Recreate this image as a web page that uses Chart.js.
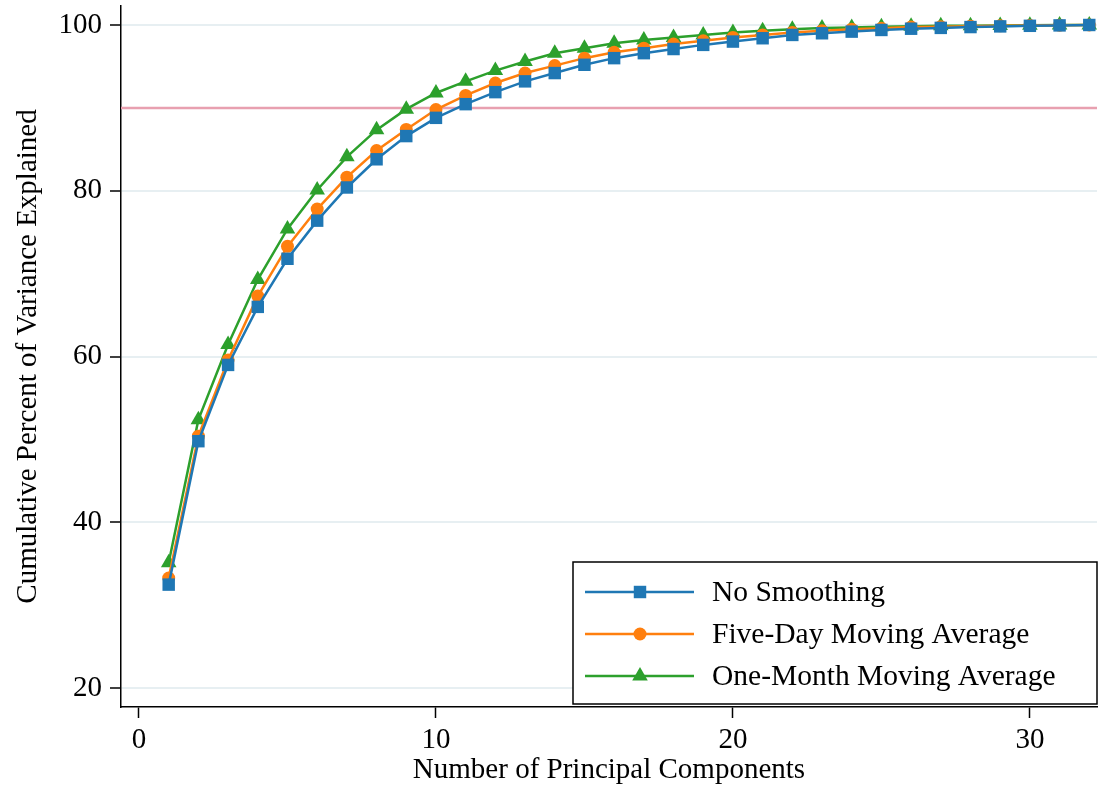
<!DOCTYPE html>
<html>
<head>
<meta charset="utf-8">
<script src="https://cdn.jsdelivr.net/npm/chart.js@4.4.1/dist/chart.umd.min.js"></script>
<style>
  html, body { margin: 0; padding: 0; background: #ffffff; }
  #wrap { width: 1099px; height: 789px; }
</style>
</head>
<body>
<div id="wrap"><canvas id="c" width="1099" height="789"></canvas></div>
<script>
// ---- data ----
const components = [1, 2, 3, 4, 5, 6, 7, 8, 9, 10, 11, 12, 13, 14, 15, 16,
                    17, 18, 19, 20, 21, 22, 23, 24, 25, 26, 27, 28, 29, 30, 31, 32];
const noSmoothing = [32.5, 49.8, 59.0, 66.0, 71.8, 76.4, 80.4, 83.8, 86.6, 88.8, 90.45, 91.9,
                     93.2, 94.2, 95.2, 96.0, 96.6, 97.1, 97.6, 98.0, 98.4, 98.8, 99.0, 99.2,
                     99.4, 99.55, 99.65, 99.75, 99.83, 99.9, 99.95, 100.0];
const fiveDayMA = [33.3, 50.4, 59.6, 67.3, 73.3, 77.8, 81.65, 84.85, 87.4, 89.8, 91.5, 93.0,
                   94.2, 95.1, 96.0, 96.7, 97.2, 97.7, 98.1, 98.5, 98.8, 99.1, 99.3, 99.5,
                   99.6, 99.75, 99.8, 99.86, 99.9, 99.95, 99.98, 100.0];
const oneMonthMA = [35.15, 52.4, 61.45, 69.3, 75.4, 80.1, 84.1, 87.35, 89.85, 91.8, 93.2, 94.5,
                    95.6, 96.6, 97.2, 97.8, 98.2, 98.5, 98.8, 99.1, 99.3, 99.5, 99.64, 99.7,
                    99.8, 99.85, 99.9, 99.92, 99.95, 99.97, 99.99, 100.0];
const seriesLabels = ['No Smoothing', 'Five-Day Moving Average', 'One-Month Moving Average'];
const xTicks = [0, 10, 20, 30];
const yTicks = [20, 40, 60, 80, 100];
const threshold = 90;
const xLabel = 'Number of Principal Components';
const yLabel = 'Cumulative Percent of Variance Explained';

// ---- styles ----
const FONT = "'Liberation Serif', 'Times New Roman', serif";
const colors = ['#1f77b4', '#ff7f0e', '#2ca02c'];
const styles = ['rect', 'circle', 'triangle'];
const radii = [8.8, 6.5, 9];

function toPoints(arr) { return components.map((c, i) => ({ x: c, y: arr[i] })); }

const datasets = [noSmoothing, fiveDayMA, oneMonthMA].map((arr, i) => ({
  label: seriesLabels[i],
  data: toPoints(arr),
  borderColor: colors[i],
  backgroundColor: colors[i],
  borderWidth: 2.5,
  pointStyle: styles[i],
  pointRadius: radii[i],
  pointBorderWidth: 0,
  pointBackgroundColor: colors[i],
  tension: 0,
  fill: false,
  clip: false
}));

const thresholdPlugin = {
  id: 'thresholdLine',
  beforeDatasetsDraw(chart) {
    const { ctx, chartArea, scales } = chart;
    const y = scales.y.getPixelForValue(threshold);
    ctx.save();
    ctx.strokeStyle = '#e8a0b0';
    ctx.lineWidth = 2.5;
    ctx.beginPath();
    ctx.moveTo(chartArea.left, y);
    ctx.lineTo(chartArea.right, y);
    ctx.stroke();
    ctx.restore();
  }
};

function drawMarker(ctx, style, r, x, y, color) {
  ctx.fillStyle = color;
  ctx.beginPath();
  if (style === 'rect') {
    const s = Math.SQRT1_2 * r;
    ctx.rect(x - s, y - s, 2 * s, 2 * s);
  } else if (style === 'circle') {
    ctx.arc(x, y, r, 0, Math.PI * 2);
  } else {
    const a = -Math.PI / 2;
    for (let k = 0; k < 3; k++) {
      const ang = a + k * 2 * Math.PI / 3;
      const px = x + Math.cos(ang) * r, py = y + Math.sin(ang) * r;
      if (k === 0) ctx.moveTo(px, py); else ctx.lineTo(px, py);
    }
    ctx.closePath();
  }
  ctx.fill();
}

const legendPlugin = {
  id: 'boxLegend',
  afterDraw(chart) {
    const { ctx, chartArea } = chart;
    const boxW = 524, boxH = 142;
    const right = chartArea.right, bottom = chartArea.bottom - 3;
    const left = right - boxW, top = bottom - boxH;
    ctx.save();
    ctx.fillStyle = '#ffffff';
    ctx.fillRect(left, top, boxW, boxH);
    ctx.strokeStyle = '#000000';
    ctx.lineWidth = 1.5;
    ctx.strokeRect(left, top, boxW, boxH);
    chart.data.datasets.forEach((ds, i) => {
      const yy = top + 30 + i * 42;
      ctx.strokeStyle = ds.borderColor;
      ctx.lineWidth = 2.5;
      ctx.beginPath();
      ctx.moveTo(left + 12, yy);
      ctx.lineTo(left + 121, yy);
      ctx.stroke();
      drawMarker(ctx, ds.pointStyle, ds.pointRadius, left + 67, yy, ds.borderColor);
      ctx.fillStyle = '#000000';
      ctx.font = '29.5px ' + FONT;
      ctx.textAlign = 'left';
      ctx.textBaseline = 'middle';
      ctx.fillText(ds.label, left + 139, yy + 1);
    });
    ctx.restore();
  }
};

function zeroPad(scale) {
  scale.paddingTop = 0; scale.paddingBottom = 0;
  scale.paddingLeft = 0; scale.paddingRight = 0;
}

new Chart(document.getElementById('c'), {
  type: 'line',
  data: { datasets },
  plugins: [thresholdPlugin, legendPlugin],
  options: {
    responsive: false,
    animation: false,
    layout: { autoPadding: false, padding: { top: 6, right: 2, left: 0, bottom: 0 } },
    plugins: { legend: { display: false }, tooltip: { enabled: false } },
    scales: {
      x: {
        type: 'linear',
        min: -0.606,
        max: 32.26,
        afterBuildTicks(scale) { scale.ticks = xTicks.map(v => ({ value: v })); },
        afterFit(scale) { scale.height = 82; zeroPad(scale); },
        border: { display: true, color: '#000000', width: 1.5 },
        grid: { drawOnChartArea: false, drawTicks: true, tickLength: 11, tickColor: '#000000', tickWidth: 1.5 },
        ticks: { color: '#000000', font: { family: FONT, size: 29 }, padding: 5, maxRotation: 0 },
        title: { display: true, text: xLabel, color: '#000000', font: { family: FONT, size: 29 }, padding: { top: 0, bottom: 1 } }
      },
      y: {
        type: 'linear',
        min: 17.74,
        max: 102.29,
        afterBuildTicks(scale) { scale.ticks = yTicks.map(v => ({ value: v })); },
        afterFit(scale) { scale.width = 121; zeroPad(scale); },
        border: { display: true, color: '#000000', width: 1.5 },
        grid: { drawOnChartArea: true, color: '#e7eff2', lineWidth: 2, drawTicks: true, tickLength: 11, tickColor: '#000000', tickWidth: 1.5 },
        ticks: { color: '#000000', font: { family: FONT, size: 29 }, padding: 8 },
        title: { display: true, text: yLabel, color: '#000000', font: { family: FONT, size: 29 }, padding: { top: 11, bottom: 0 } }
      }
    }
  }
});
</script>
</body>
</html>
